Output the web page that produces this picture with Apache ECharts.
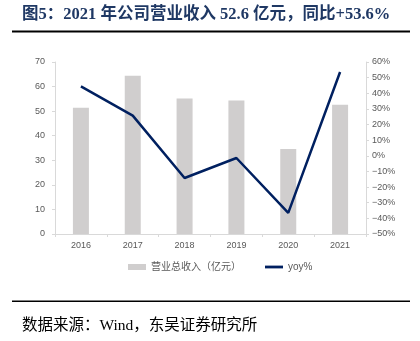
<!DOCTYPE html>
<html>
<head>
<meta charset="utf-8">
<script src="https://cdn.jsdelivr.net/npm/echarts@6/dist/echarts.min.js"></script>
<style>
  html, body { margin: 0; padding: 0; background: #fff; }
  #chart { width: 420px; height: 341px; }
</style>
</head>
<body>
<div id="chart"></div>
<script>
// Yearly revenue (bars, left axis) and its year-on-year growth (line, right axis)
const years = ['2016', '2017', '2018', '2019', '2020', '2021'];
const revenue = [51.4, 64.4, 55.1, 54.3, 34.6, 52.6];      // 亿元
const yoyGrowth = [44.4, 25.7, -14.2, -1.4, -36.5, 53.6];  // %

const revenueName = '营业总收入（亿元）';
const yoyName = 'yoy%';
const titleText = '图5：2021 年公司营业收入 52.6 亿元，同比+53.6%';
const sourceText = '数据来源：Wind，东吴证券研究所';

const axisGray = '#d9d9d9';
const labelGray = '#595959';
const cjkSans = '"Liberation Sans", "Noto Sans CJK SC", sans-serif';
const cjkSerif = '"Liberation Serif", "Noto Sans CJK SC", serif';

// thin bar used as the legend swatch of the line series (corner moves keep the box 18x6)
const lineSwatch = 'path://M0,0M18,6M0,1.6H18V4.4H0Z';

const chart = echarts.init(document.getElementById('chart'), null, { renderer: 'canvas' });

chart.setOption({
  animation: false,
  backgroundColor: '#ffffff',
  grid: { left: 55, right: 54, top: 62, bottom: 107, containLabel: false },
  legend: {
    left: 123,
    top: 257,
    itemWidth: 18,
    itemHeight: 6,
    itemGap: 24,
    textStyle: { fontSize: 10, color: labelGray, fontFamily: cjkSans },
    data: [
      { name: revenueName, icon: 'rect' },
      { name: yoyName, icon: lineSwatch, itemStyle: { color: '#002060' } }
    ]
  },
  xAxis: {
    type: 'category',
    data: years,
    boundaryGap: true,
    axisLine: { lineStyle: { color: axisGray, width: 1 } },
    axisTick: { show: true, length: 3, lineStyle: { color: axisGray } },
    axisLabel: { fontSize: 9, color: labelGray, margin: 7, fontFamily: cjkSans }
  },
  yAxis: [
    {
      type: 'value',
      min: 0,
      max: 70,
      interval: 10,
      axisLine: { show: true, lineStyle: { color: axisGray } },
      axisTick: { show: true, length: 3, lineStyle: { color: axisGray } },
      splitLine: { show: false },
      axisLabel: { fontSize: 9, color: labelGray, margin: 10, fontFamily: cjkSans }
    },
    {
      type: 'value',
      position: 'right',
      min: -50,
      max: 60,
      interval: 10,
      axisLine: { show: true, lineStyle: { color: axisGray } },
      axisTick: { show: true, length: 3, lineStyle: { color: axisGray } },
      splitLine: { show: false },
      axisLabel: {
        fontSize: 9,
        color: labelGray,
        margin: 6,
        fontFamily: cjkSans,
        formatter: v => (v < 0 ? '\u2212' + Math.abs(v) : v) + '%'
      }
    }
  ],
  series: [
    {
      name: revenueName,
      type: 'bar',
      yAxisIndex: 0,
      data: revenue,
      barWidth: 16,
      itemStyle: { color: '#d0cece' }
    },
    {
      name: yoyName,
      type: 'line',
      yAxisIndex: 1,
      data: yoyGrowth,
      symbol: 'none',
      lineStyle: { color: '#002060', width: 2.5 },
      itemStyle: { color: '#002060' }
    }
  ],
  graphic: [
    {
      type: 'text',
      left: 22,
      top: 6,
      style: {
        text: titleText,
        font: 'bold 16.5px ' + cjkSerif,
        fill: '#1f3864'
      }
    },
    {
      type: 'rect',
      shape: { x: 12, y: 30.5, width: 398, height: 2 },
      style: { fill: '#000000' }
    },
    {
      type: 'rect',
      shape: { x: 12, y: 300.5, width: 398, height: 1.5 },
      style: { fill: '#000000' }
    },
    {
      type: 'text',
      left: 22,
      top: 318,
      style: {
        text: sourceText,
        font: '15.5px ' + cjkSerif,
        fill: '#000000'
      }
    }
  ]
});
</script>
</body>
</html>
